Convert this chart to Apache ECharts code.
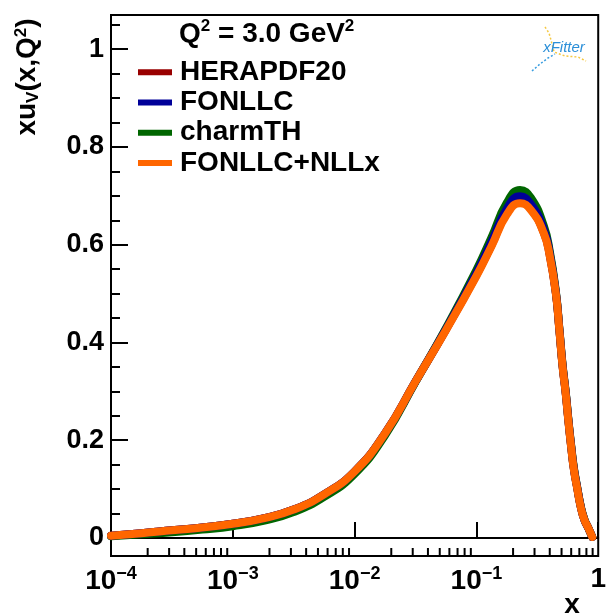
<!DOCTYPE html>
<html>
<head>
<meta charset="utf-8">
<script src="https://cdn.jsdelivr.net/npm/echarts@6/dist/echarts.min.js"></script>
<style>
html,body{margin:0;padding:0;background:#fff;}
#chart{width:609px;height:613px;}
</style>
</head>
<body>
<div id="chart"></div>
<script>
// x grid (log scale) at which the curves were read
var xValues = [1e-4, 1.78e-4, 3.16e-4, 5.62e-4, 1e-3, 1.78e-3, 3.16e-3, 5.62e-3, 1e-2, 1.78e-2, 3.16e-2, 5.62e-2, 0.1, 0.133, 0.178, 0.228, 0.28, 0.357, 0.40, 0.45, 0.48, 0.51, 0.54, 0.57, 0.60, 0.63, 0.67, 0.72, 0.77, 0.83, 0.893];
// xu_v(x,Q^2) central values per PDF
var herapdf20  = [0.0045, 0.0095, 0.0155, 0.0215, 0.029, 0.040, 0.058, 0.089, 0.136, 0.214, 0.320, 0.426, 0.538, 0.599, 0.665, 0.688, 0.673, 0.625, 0.578, 0.499, 0.425, 0.351, 0.298, 0.238, 0.186, 0.142, 0.104, 0.063, 0.037, 0.020, 0.002];
var fonllc     = [0.0045, 0.0095, 0.0155, 0.0215, 0.029, 0.040, 0.058, 0.089, 0.136, 0.214, 0.320, 0.427, 0.542, 0.606, 0.674, 0.699, 0.683, 0.632, 0.582, 0.500, 0.426, 0.352, 0.299, 0.239, 0.187, 0.143, 0.105, 0.063, 0.037, 0.020, 0.002];
var charmTH    = [0.0035, 0.0075, 0.0115, 0.0170, 0.024, 0.035, 0.053, 0.084, 0.131, 0.210, 0.319, 0.429, 0.548, 0.615, 0.686, 0.712, 0.696, 0.639, 0.587, 0.502, 0.428, 0.354, 0.301, 0.241, 0.189, 0.145, 0.106, 0.064, 0.038, 0.020, 0.002];
var fonllcNLLx = [0.0045, 0.0095, 0.0155, 0.0215, 0.029, 0.040, 0.058, 0.089, 0.136, 0.214, 0.320, 0.425, 0.536, 0.597, 0.662, 0.685, 0.671, 0.624, 0.577, 0.498, 0.424, 0.350, 0.297, 0.237, 0.185, 0.141, 0.103, 0.062, 0.037, 0.020, 0.002];
var seriesNames = ['HERAPDF20', 'FONLLC', 'charmTH', 'FONLLC+NLLx'];
var seriesColors = ['#990000', '#000099', '#006600', '#ff6600'];
var yTickLabels = ['0', '0.2', '0.4', '0.6', '0.8', '1'];
var Y_MIN = -0.037, Y_MAX = 1.07;

function pairs(ys){ return xValues.map(function(x,i){ return [x, ys[i]]; }); }
// minor tick positions on log x axis (2..9 x 10^d)
var minorX = [];
for (var d = -4; d < 0; d++) { for (var k = 2; k <= 9; k++) minorX.push([k * Math.pow(10, d), 0]); }

var FONT = '"Liberation Sans", Arial, Helvetica, sans-serif';
var chart = echarts.init(document.getElementById('chart'), null, {renderer:'canvas'});

function lineSeries(name, data, color, z){
  return {
    name: name, type: 'line', data: pairs(data), showSymbol: false, smooth: 0.5,
    color: color, lineStyle: {width: 8, color: color, cap: 'round', join: 'round'}, z: z, silent: true, animation: false
  };
}

var option = {
  animation: false,
  backgroundColor: '#ffffff',
  grid: {left: 111, right: 6, top: 15, bottom: 57, show: true, borderColor: '#000', borderWidth: 2, backgroundColor: 'transparent'},
  title: {
    text: 'Q{sup|2} = 3.0 GeV{sup|2}',
    left: 174, top: 13,
    textStyle: {
      fontFamily: FONT, fontWeight: 'bold', fontSize: 28, color: '#000', lineHeight: 32,
      rich: {sup: {fontFamily: FONT, fontWeight: 'bold', fontSize: 17, verticalAlign: 'top', lineHeight: 32, padding:[0,0,12,0]}}
    }
  },
  legend: {
    orient: 'vertical', left: 133, top: 52, itemGap: 0, itemWidth: 34, itemHeight: 6,
    icon: 'rect', data: seriesNames, selectedMode: false,
    textStyle: {fontFamily: FONT, fontWeight: 'bold', fontSize: 28, color: '#000', lineHeight: 30.3, padding: [0,0,0,3]}
  },
  xAxis: {
    type: 'log', logBase: 10, min: 1e-4, max: 1,
    axisLine: {show: true, lineStyle: {color: '#000', width: 2}},
    axisTick: {show: true, inside: true, length: 16, lineStyle: {color: '#000', width: 2}},
    minorTick: {show: false},
    splitLine: {show: false},
    axisLabel: {
      margin: 9, color: '#000',
      formatter: function(v){
        var e = Math.round(Math.log10(v));
        if (e === 0) return '1';
        return '10{sup|\u2212' + (-e) + '}';
      },
      fontFamily: FONT, fontWeight: 'bold', fontSize: 28,
      rich: {sup: {fontFamily: FONT, fontWeight: 'bold', fontSize: 18, verticalAlign: 'top', padding: [0,0,14,0]}}
    }
  },
  yAxis: {
    type: 'value', min: Y_MIN, max: Y_MAX,
    axisLine: {show: true, lineStyle: {color: '#000', width: 2}},
    axisTick: {show: true, inside: true, length: 17, lineStyle: {color: '#000', width: 2}},
    minorTick: {show: true, splitNumber: 4, length: 9, lineStyle: {color: '#000', width: 2}},
    splitLine: {show: false},
    axisLabel: {
      showMinLabel: false, showMaxLabel: false, margin: 7, color: '#000',
      fontFamily: FONT, fontWeight: 'bold', fontSize: 27,
      formatter: function(v){
        var i = Math.round(v / 0.2);
        if (Math.abs(v - i * 0.2) > 1e-6 || i < 0 || i >= yTickLabels.length) return '';
        return yTickLabels[i];
      }
    }
  },
  graphic: [
    {
      type: 'text', x: 27, y: 77, rotation: Math.PI / 2,
      style: {
        text: 'xu{sub|V}(x,Q{sup|2})', align: 'center', verticalAlign: 'middle',
        font: 'bold 28px ' + FONT, fill: '#000',
        rich: {
          sub: {font: 'bold 17px ' + FONT, fill: '#000', verticalAlign: 'bottom', padding: [10,0,0,0]},
          sup: {font: 'bold 17px ' + FONT, fill: '#000', verticalAlign: 'top', padding: [0,0,12,0]}
        }
      }
    },
    {
      type: 'text', x: 572, y: 605,
      style: {text: 'x', align: 'center', verticalAlign: 'middle', font: 'bold 28px ' + FONT, fill: '#000'}
    },
    {
      type: 'polyline', shape: {points: [[545, 27], [549, 33], [551, 40], [554, 52], [565, 56], [578, 57], [586, 61]]},
      style: {stroke: '#f5c842', lineWidth: 1.5, lineDash: [2, 2], fill: null}
    },
    {
      type: 'polyline', shape: {points: [[532, 71], [540, 64], [548, 58], [555, 54]]},
      style: {stroke: '#3a9ee0', lineWidth: 1.5, lineDash: [2, 2], fill: null}
    },
    {
      type: 'text', x: 564, y: 48,
      style: {text: 'xFitter', align: 'center', verticalAlign: 'middle', font: 'italic 15px ' + FONT, fill: '#2b8fd8'}
    }
  ],
  series: [
    lineSeries(seriesNames[0], herapdf20, seriesColors[0], 2),
    lineSeries(seriesNames[2], charmTH, seriesColors[2], 3),
    lineSeries(seriesNames[1], fonllc, seriesColors[1], 4),
    lineSeries(seriesNames[3], fonllcNLLx, seriesColors[3], 5),
    {
      name: 'minorTicks', type: 'custom', data: minorX, silent: true, z: 10, clip: false,
      renderItem: function(params, api){
        var p = api.coord([api.value(0), Y_MIN]);
        return {type: 'line', shape: {x1: p[0], y1: p[1], x2: p[0], y2: p[1] - 8}, style: {stroke: '#000', lineWidth: 2}};
      }
    }
  ]
};
chart.setOption(option);
</script>
</body>
</html>
